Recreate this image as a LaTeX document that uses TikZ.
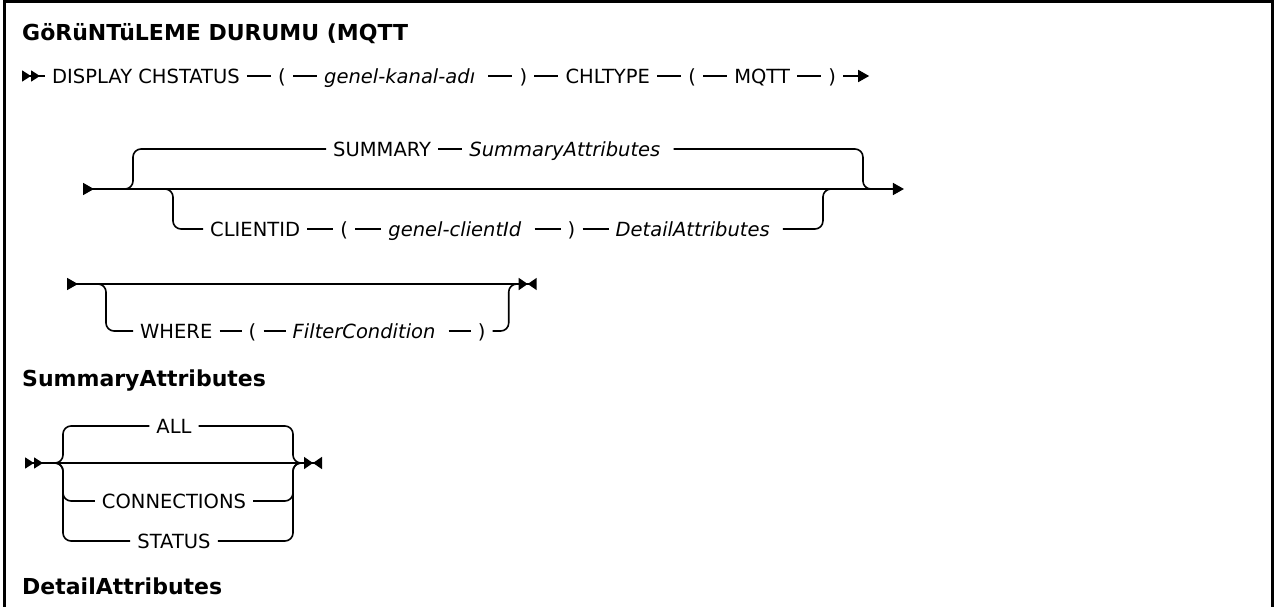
\documentclass[tikz,border=0pt]{standalone}
\usepackage{fontspec}
\setmainfont{DejaVu Sans}
\usetikzlibrary{arrows.meta,positioning,calc}
\tikzset{
	synin/.tip={Triangle[reversed,length=11pt,width=12pt]},
	synintwo/.tip={Triangle[reversed,length=9pt,width=11pt,sep=0pt]Triangle[reversed,length=9pt,width=11pt,sep=0pt]},
	synout/.tip={Triangle[length=11pt,width=12pt]},
	synstop/.tip={Triangle[length=9pt,width=12pt,sep=0pt]Triangle[reversed,length=9pt,width=12pt]},
	track/.style={
		line width=1.6pt
	},
	kw/.style={
		font=\fontsize{19.5}{23}\selectfont,
		inner xsep=7pt,
		inner ysep=0pt,
		text height=14.2pt,
		text depth=0pt
	},
	var/.style={
		kw,
		font=\fontsize{19.5}{23}\selectfont\itshape,
		execute at end node={\hspace{6pt}}
	},
	heading/.style={
		font=\fontsize{22}{26}\selectfont\bfseries,
		inner sep=0pt
	},
	frameline/.style={
		line width=3pt
	}
}
\begin{document}
\begin{tikzpicture}[x=1pt,y=-1pt]
	\useasboundingbox (0,0) rectangle (1276,607);
	
	% --- FRAME ---
	\draw[frameline] (4,607) -- (4,2) -- (1272,2) -- (1272,607);
	
	% --- TITLE ---
	\node[heading, anchor=base west] (title) at (22,41) {GöRüNTüLEME DURUMU (MQTT};
	
	% --- ROW 1: DISPLAY CHSTATUS ---
	\coordinate (r1start) at (22,76);
	\node[kw, anchor=west] (disp) at (45,76) {DISPLAY CHSTATUS\hspace{6pt}};
	\node[kw, right=24pt of disp] (lpa) {(};
	\node[var, right=24pt of lpa] (chname) {genel-kanal-adı};
	\node[kw, right=24pt of chname] (rpa) {)};
	\node[kw, right=24pt of rpa] (chltype) {CHLTYPE};
	\node[kw, right=24pt of chltype] (lpb) {(};
	\node[kw, right=24pt of lpb] (mqtt) {MQTT};
	\node[kw, right=24pt of mqtt] (rpb) {)};
	\coordinate[right=26pt of rpb] (r1end);
	
	\draw[track, {synintwo}-] (r1start) -- (disp);
	\foreach \a/\b in {disp/lpa, lpa/chname, chname/rpa, rpa/chltype, chltype/lpb, lpb/mqtt, mqtt/rpb} {
		\draw[track] (\a) -- (\b);
	}
	\draw[track, -{synout}] (rpb) -- (r1end);
	
	% --- ROW 2: SUMMARY / CLIENTID ---
	\node[kw, anchor=west] (summ) at (326,149) {SUMMARY};
	\node[var, right=24pt of summ] (summattr) {SummaryAttributes};
	
	\node[kw, anchor=west] (clid) at (203,229) {CLIENTID};
	\node[kw, right=26pt of clid] (lpc) {(};
	\node[var, right=26pt of lpc] (clidname) {genel-clientId};
	\node[kw, right=26pt of clidname] (rpc) {)};
	\node[var, right=26pt of rpc] (detattr) {DetailAttributes};
	
	\coordinate (r2start) at (83,189);
	\coordinate (r2upl) at (125,189);
	\coordinate (r2upv) at (133,189);
	\coordinate (r2lowl) at (165,189);
	\coordinate (r2lowv) at (173,189);
	\coordinate (r2lowrv) at ($(detattr.east |- r2start)+(40,0)$);
	\coordinate (r2lowr) at ($(r2lowrv)+(8,0)$);
	\coordinate (r2uprv) at ($(r2lowrv)+(40,0)$);
	\coordinate (r2upr) at ($(r2uprv)+(8,0)$);
	\coordinate (r2end) at ($(r2upr)+(33,0)$);
	
	\draw[track, {synin}-{synout}] (r2start) -- (r2end);
	\draw[track, rounded corners=8pt] (r2upl) -| (r2upv |- summ) -- (summ);
	\draw[track] (summ) -- (summattr);
	\draw[track, rounded corners=8pt] (summattr) -| (r2uprv) -- (r2upr);
	\draw[track, rounded corners=8pt] (r2lowl) -| (r2lowv |- clid) -- (clid);
	\foreach \a/\b in {clid/lpc, lpc/clidname, clidname/rpc, rpc/detattr} {
		\draw[track] (\a) -- (\b);
	}
	\draw[track, rounded corners=8pt] (detattr) -| (r2lowrv) -- (r2lowr);
	
	% --- ROW 3: WHERE ---
	\node[kw, anchor=west] (where) at (133,331) {WHERE};
	\node[kw, right=22pt of where] (lpd) {(};
	\node[var, right=22pt of lpd] (filter) {FilterCondition};
	\node[kw, right=22pt of filter] (rpd) {)};
	
	\coordinate (r3start) at (67,284);
	\coordinate (r3lowl) at (98,284);
	\coordinate (r3lowv) at (106,284);
	\coordinate (r3lowrv) at ($(rpd.east |- r3start)+(16,0)$);
	\coordinate (r3lowr) at ($(r3lowrv)+(8,0)$);
	\coordinate (r3end) at ($(r3lowr)+(20,0)$);
	
	\draw[track, {synin}-{synstop}] (r3start) -- (r3end);
	\draw[track, rounded corners=8pt] (r3lowl) -| (r3lowv |- where) -- (where);
	\foreach \a/\b in {where/lpd, lpd/filter, filter/rpd} {
		\draw[track] (\a) -- (\b);
	}
	\draw[track, rounded corners=8pt] (rpd) -| (r3lowrv) -- (r3lowr);
	
	% --- SUMMARY ATTRIBUTES ---
	\node[heading, anchor=base west] (sumhead) at (22,386) {SummaryAttributes};
	
	\coordinate (sstart) at (25,463);
	\coordinate (ssplitl) at (55,463);
	\coordinate (svl) at (63,463);
	\coordinate (svr) at (293,463);
	\coordinate (ssplitr) at (301,463);
	\coordinate (send) at (322,463);
	
	\node[kw] (all) at (174,426) {ALL};
	\node[kw] (conn) at (174,501) {CONNECTIONS};
	\node[kw] (stat) at (174,541) {STATUS};
	
	\draw[track, {synintwo}-{synstop}] (sstart) -- (send);
	\foreach \n in {all,conn,stat} {
		\draw[track, rounded corners=8pt] (ssplitl) -| (svl |- \n) -- (\n);
		\draw[track, rounded corners=8pt] (\n) -| (svr) -- (ssplitr);
	}
	
	% --- DETAIL ATTRIBUTES ---
	\node[heading, anchor=base west] (dethead) at (22,594) {DetailAttributes};
	
\end{tikzpicture}
\end{document}
